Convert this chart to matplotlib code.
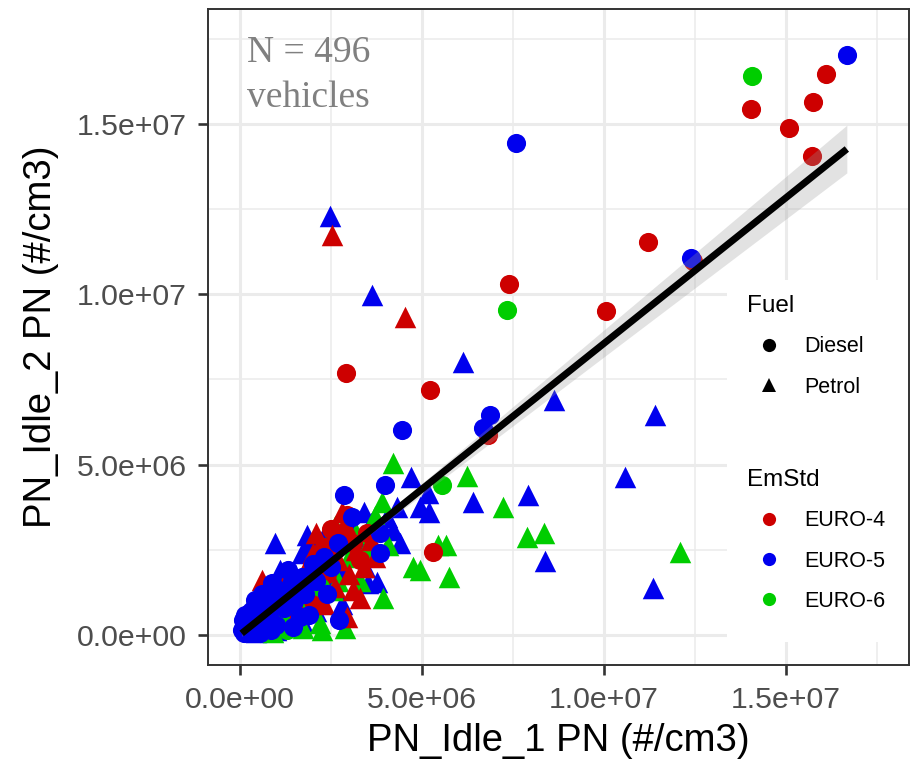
import numpy as np
import matplotlib
matplotlib.use("Agg")
import matplotlib.pyplot as plt
from matplotlib.lines import Line2D
from matplotlib.patches import Rectangle
from matplotlib.ticker import FuncFormatter, MultipleLocator

plt.rcParams['font.family'] = ['Liberation Sans', 'DejaVu Sans']

# PN readings in millions of particles per cm3: idle test 1 (x) and idle test 2 (y)
diesel_e4_x = [16.09, 15.74, 14.04, 15.08, 15.71, 11.21, 12.44, 7.40, 10.06, 2.92, 5.23, 6.82, 5.31, 2.95, 0.56,
               0.30, 0.45, 0.70, 1.00, 1.30, 1.60, 1.90, 2.20, 2.40, 2.60, 2.80, 2.50, 3.10, 3.30, 2.00,
               1.20, 0.90, 0.20, 3.50, 2.30]
diesel_e4_y = [16.46, 15.64, 15.43, 14.88, 14.06, 11.53, 10.97, 10.30, 9.51, 7.69, 7.19, 5.87, 2.44, 3.52, 0.82,
               0.20, 0.50, 0.40, 0.90, 1.10, 1.40, 1.50, 2.00, 1.80, 2.50, 2.90, 3.10, 2.70, 2.20, 1.00,
               0.50, 1.20, 0.60, 3.00, 2.60]

diesel_e5_x = [16.67, 12.39, 7.59, 6.87, 6.68, 4.46, 3.99, 2.87, 3.09, 3.86, 3.86, 0.89, 1.33, 2.73, 1.66,
               0.10, 0.43, 0.15, 0.05, 0.12, 0.20, 0.25, 0.35, 0.40, 0.50, 0.60, 0.70, 0.80, 0.95, 1.10,
               1.20, 1.40, 1.50, 1.70, 1.80, 2.00, 2.10, 2.30, 2.50, 2.70, 1.00, 0.30, 0.15, 0.60, 1.90,
               2.40, 0.85, 1.45, 0.55]
diesel_e5_y = [17.02, 11.06, 14.44, 6.46, 6.07, 6.02, 4.40, 4.11, 3.46, 2.99, 2.41, 1.53, 1.91, 0.44, 0.53,
               0.44, 1.03, 0.35, 0.15, 0.05, 0.30, 0.10, 0.45, 0.20, 0.60, 0.30, 0.75, 0.50, 1.00, 1.30,
               0.80, 1.50, 1.00, 1.70, 1.20, 2.10, 1.60, 2.30, 2.00, 2.70, 0.30, 0.70, 0.60, 1.20, 0.60,
               1.20, 0.15, 0.25, 0.05]

diesel_e6_x = [14.06, 7.34, 5.56, 0.20, 0.50, 0.80, 1.10, 0.40, 1.50, 2.20, 0.70, 1.30]
diesel_e6_y = [16.40, 9.54, 4.40, 0.10, 0.30, 0.20, 0.60, 0.80, 1.30, 1.40, 0.05, 0.15]

petrol_e4_x = [2.54, 4.54, 0.62, 2.95, 3.12, 1.00, 1.40, 1.80, 2.00, 2.20, 2.50, 2.70, 2.90, 3.00, 3.20,
               3.40, 2.60, 2.30, 1.60, 3.60, 0.50, 0.80, 3.30, 2.80, 2.10, 3.70, 1.20]
petrol_e4_y = [11.74, 9.33, 1.61, 0.53, 1.32, 0.60, 1.00, 1.90, 2.40, 1.70, 2.80, 2.20, 3.30, 1.80, 2.50,
               2.00, 1.40, 0.90, 0.80, 2.80, 0.40, 1.10, 1.10, 3.60, 3.00, 2.30, 1.50]

petrol_e5_x = [2.48, 3.64, 6.13, 8.63, 11.40, 10.58, 4.71, 5.17, 6.41, 5.20, 7.91, 8.38, 11.35, 4.32, 4.05,
               4.21, 4.41, 0.97, 1.85, 3.53, 3.77, 3.45, 4.95, 0.30, 0.60, 0.90, 1.20, 1.50, 1.70, 2.00,
               2.30, 2.60, 2.90, 3.10, 3.30, 1.10, 1.40, 0.70, 2.80, 3.60, 1.90, 2.40, 0.45, 1.00, 1.70,
               2.10, 3.40, 3.80]
petrol_e5_y = [12.29, 9.98, 8.01, 6.90, 6.46, 4.64, 4.64, 4.17, 3.90, 3.61, 4.11, 2.17, 1.38, 3.76, 3.46,
               3.08, 2.70, 2.70, 2.93, 1.53, 1.56, 2.00, 3.76, 0.30, 0.90, 0.40, 1.10, 1.80, 2.40, 1.30,
               2.90, 2.30, 1.90, 3.10, 2.60, 1.90, 0.70, 1.40, 0.90, 3.30, 2.70, 1.70, 0.10, 0.15, 0.40,
               0.70, 3.60, 3.20]

petrol_e6_x = [4.21, 6.24, 7.23, 7.89, 8.36, 12.09, 5.45, 5.67, 5.75, 4.95, 3.91, 4.76, 3.94, 2.21, 1.74,
               4.08, 2.57, 2.26, 0.40, 0.80, 1.10, 1.30, 1.60, 1.90, 2.10, 2.40, 2.70, 3.00, 3.20, 3.50,
               2.60, 1.50, 0.90, 2.90, 3.70, 3.30]
petrol_e6_y = [5.05, 4.67, 3.76, 2.88, 2.99, 2.44, 2.64, 2.64, 1.70, 1.91, 3.90, 2.00, 1.09, 0.35, 0.21,
               2.64, 1.32, 0.15, 0.25, 0.70, 0.30, 1.40, 1.10, 1.80, 2.30, 2.50, 1.60, 2.30, 3.00, 2.60,
               3.20, 0.50, 0.10, 0.20, 3.50, 1.60]

# linear fit (geom_smooth, method = lm) and its 95% band, in millions
fit_slope = 0.855
fit_intercept = 0.008
band_min = 0.06
band_growth = 0.046
band_centre = 1.5

fuel_labels = ['Diesel', 'Petrol']
fuel_markers = {'Diesel': 'o', 'Petrol': '^'}
emstd_labels = ['EURO-4', 'EURO-5', 'EURO-6']
emstd_colors = {'EURO-4': '#CD0000', 'EURO-5': '#0000EE', 'EURO-6': '#00CD00'}

# drawing order of the point groups (later groups sit on top)
groups = [
    ('Petrol', 'EURO-5', petrol_e5_x, petrol_e5_y),
    ('Petrol', 'EURO-6', petrol_e6_x, petrol_e6_y),
    ('Petrol', 'EURO-4', petrol_e4_x, petrol_e4_y),
    ('Diesel', 'EURO-4', diesel_e4_x, diesel_e4_y),
    ('Diesel', 'EURO-6', diesel_e6_x, diesel_e6_y),
    ('Diesel', 'EURO-5', diesel_e5_x, diesel_e5_y),
]

fig = plt.figure(figsize=(9.17, 7.61), dpi=100)
ax = fig.add_axes([0.2268, 0.1262, 0.7644, 0.8623])

for fuel, std, xs, ys in groups:
    size = 190 if fuel == 'Diesel' else 240
    ax.scatter(np.array(xs) * 1e6, np.array(ys) * 1e6, s=size, marker=fuel_markers[fuel],
               color=emstd_colors[std], linewidths=0, zorder=2)

# regression line with confidence band
all_x = np.concatenate([np.array(g[2]) for g in groups])
xx = np.linspace(all_x.min(), all_x.max(), 100)
yy = fit_intercept + fit_slope * xx
hw = np.sqrt(band_min ** 2 + band_growth ** 2 * (xx - band_centre) ** 2)
ax.fill_between(xx * 1e6, (yy - hw) * 1e6, (yy + hw) * 1e6, color='#999999', alpha=0.28,
                linewidth=0, zorder=3)
ax.plot(xx * 1e6, yy * 1e6, color='black', lw=5, solid_capstyle='butt', zorder=4)

ax.set_xlim(-0.875e6, 18.375e6)
ax.set_ylim(-0.875e6, 18.375e6)
for axis in (ax.xaxis, ax.yaxis):
    axis.set_major_locator(MultipleLocator(5e6))
    axis.set_minor_locator(MultipleLocator(2.5e6))
    axis.set_major_formatter(FuncFormatter(lambda v, pos: f"{v:.1e}"))

ax.set_axisbelow(True)
ax.grid(which='major', color='#EBEBEB', lw=2.2)
ax.grid(which='minor', color='#EBEBEB', lw=1.1)
ax.tick_params(which='major', length=7.5, width=1.9, color='#333333', labelsize=21.8,
               labelcolor='#4D4D4D', pad=8)
ax.tick_params(which='minor', length=0)
for sp in ax.spines.values():
    sp.set_color('#333333')
    sp.set_linewidth(1.4)

ax.set_xlabel('PN_Idle_1 PN (#/cm3)', fontsize=27.5)
ax.set_ylabel('PN_Idle_2 PN (#/cm3)', fontsize=27.5)
ax.xaxis.set_label_coords(0.5, -0.088)
ax.yaxis.set_label_coords(-0.212, 0.5)

ax.text(0.0563, 0.9186, 'N = 496', transform=ax.transAxes, fontsize=27,
        family=['Liberation Serif', 'DejaVu Serif'], color='#808080', va='baseline', ha='left')
ax.text(0.0563, 0.851, 'vehicles', transform=ax.transAxes, fontsize=27,
        family=['Liberation Serif', 'DejaVu Serif'], color='#808080', va='baseline', ha='left')

# white legend area inside the panel
ax.add_patch(Rectangle((0.7404, 0.035), 0.2596, 0.5517, transform=ax.transAxes,
                       facecolor='white', edgecolor='none', zorder=1.5))

fuel_handles = [Line2D([], [], ls='none', marker=fuel_markers[f], color='black',
                       markersize=9.5 if f == 'Diesel' else 10.5, markeredgewidth=0)
                for f in fuel_labels]
std_handles = [Line2D([], [], ls='none', marker='o', color=emstd_colors[s],
                      markersize=9.5, markeredgewidth=0) for s in emstd_labels]

leg_kw = dict(frameon=False, fontsize=15.5, title_fontsize=17.5, alignment='left', borderpad=0,
              handlelength=2.0, handletextpad=0.66, labelspacing=0.9, borderaxespad=0,
              bbox_transform=fig.transFigure, loc='upper left')
leg1 = ax.legend(fuel_handles, fuel_labels, title='Fuel', bbox_to_anchor=(0.8146, 0.6126), **leg_kw)
ax.add_artist(leg1)
leg2 = ax.legend(std_handles, emstd_labels, title='EmStd', bbox_to_anchor=(0.8146, 0.3840), **leg_kw)
for leg in (leg1, leg2):
    leg.set_zorder(6)

fig.savefig('out.png', dpi=100)
